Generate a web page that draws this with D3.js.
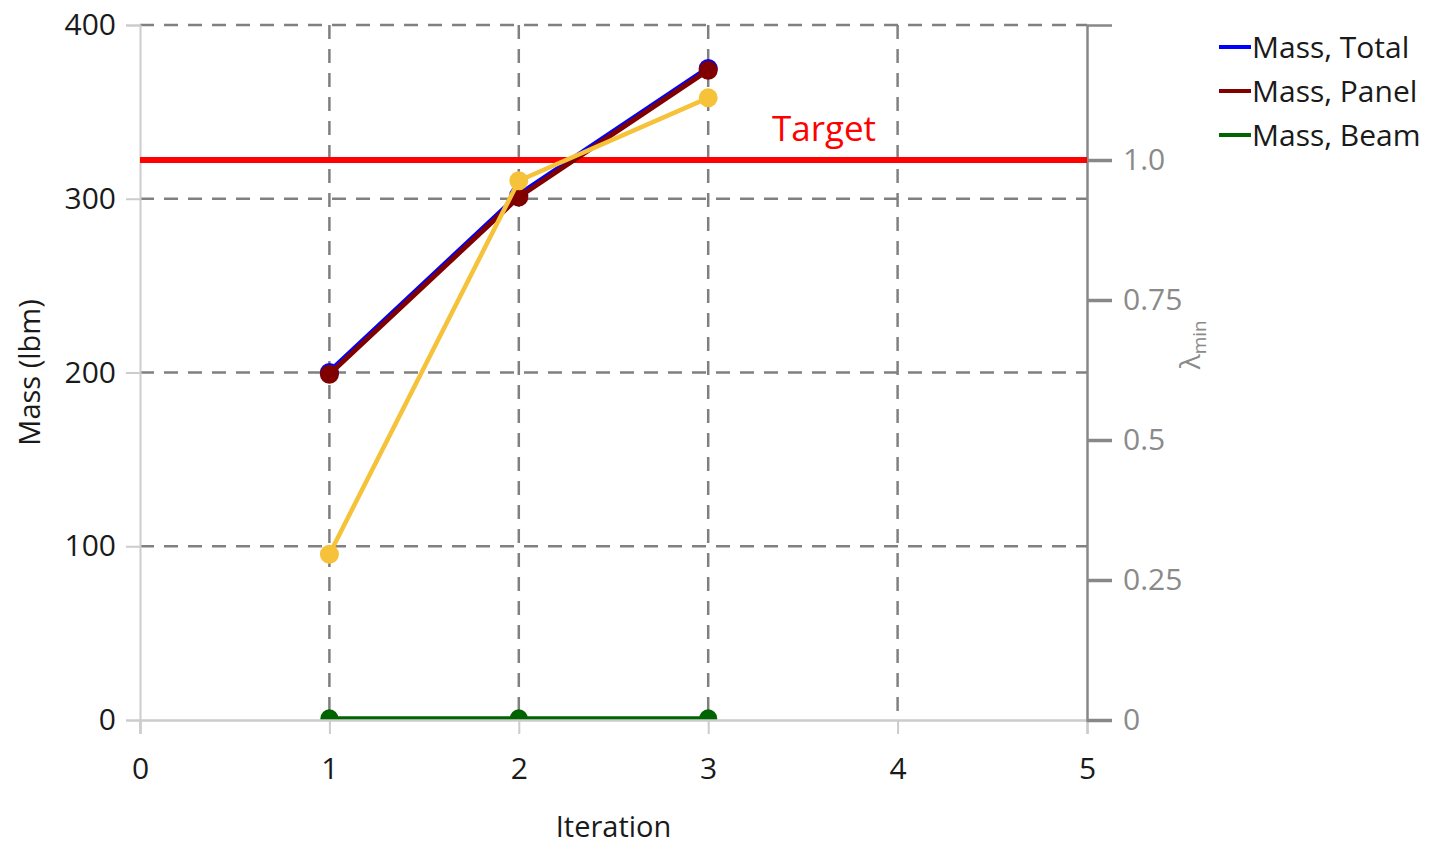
<!DOCTYPE html>
<html>
<head>
<meta charset="utf-8">
<script src="https://cdn.jsdelivr.net/npm/d3@7"></script>
<style>
  html, body { margin: 0; padding: 0; background: #fff; }
  svg { display: block; }
  text { font-family: "Open Sans", "Noto Sans", sans-serif; }
</style>
</head>
<body>
<svg id="chart" width="1439" height="864"></svg>
<script>
// ---- data ----
const iterations = [1, 2, 3];
const massTotal = [200, 302, 375];
const massPanel = [199, 301, 374];
const massBeam = [1, 1, 1];
const lambdaMin = [0.296, 0.963, 1.111];
const targetLambda = 1.0;
const xTicks = [0, 1, 2, 3, 4, 5];
const yLeftTicks = [0, 100, 200, 300, 400];
const yRightTicks = [0, 0.25, 0.5, 0.75, 1.0];
const yRightLabels = ["0", "0.25", "0.5", "0.75", "1.0"];
const legendNames = ["Mass, Total", "Mass, Panel", "Mass, Beam"];
const legendColors = ["#0000ff", "#800000", "#006400"];

// ---- layout ----
const L = 140, R = 1087, T = 25, B = 720;
const svg = d3.select("#chart");
const x = d3.scaleLinear().domain([0, 5]).range([L, R]);
const yL = d3.scaleLinear().domain([0, 400]).range([B, T]);
const yR = d3.scaleLinear().domain([0, 1.2411]).range([B, T]);

svg.append("defs").append("clipPath").attr("id", "plotclip")
  .append("rect").attr("x", L - 12).attr("y", T - 12).attr("width", R - L + 24).attr("height", B - T + 13);

// grid
const grid = svg.append("g");
grid.selectAll("line.h").data(yLeftTicks.filter(d => d > 0)).join("line")
  .attr("x1", L).attr("x2", R).attr("y1", d => yL(d)).attr("y2", d => yL(d))
  .attr("stroke", "#808080").attr("stroke-width", 2.5).attr("stroke-dasharray", "14,10");
grid.selectAll("line.v").data(xTicks.filter(d => d > 0 && d < 5)).join("line")
  .attr("x1", d => x(d)).attr("x2", d => x(d)).attr("y1", T).attr("y2", B)
  .attr("stroke", "#808080").attr("stroke-width", 2.5).attr("stroke-dasharray", "14,10");

// left axis
const gL = svg.append("g").attr("transform", `translate(${L},0)`)
  .call(d3.axisLeft(yL).tickValues(yLeftTicks).tickSize(14).tickPadding(10));
gL.select(".domain").attr("stroke", "#cccccc").attr("stroke-width", 2);
gL.selectAll(".tick line").attr("stroke", "#cccccc").attr("stroke-width", 2);
gL.selectAll(".tick text").attr("fill", "#1a1a1a").style("font-size", "30px");

// series
const plot = svg.append("g").attr("clip-path", "url(#plotclip)");
function series(vals, yScale, color, width, r) {
  const pts = iterations.map((it, i) => [x(it), yScale(vals[i])]);
  plot.append("path").attr("d", d3.line()(pts)).attr("fill", "none")
    .attr("stroke", color).attr("stroke-width", width).attr("stroke-linejoin", "round");
  plot.selectAll(null).data(pts).join("circle")
    .attr("cx", d => d[0]).attr("cy", d => d[1]).attr("r", r).attr("fill", color);
}
series(massBeam, yL, "#006400", 4, 9);

// bottom axis
const gB = svg.append("g").attr("transform", `translate(0,${B})`)
  .call(d3.axisBottom(x).tickValues(xTicks).tickSize(14).tickPadding(24).tickFormat(d3.format("d")));
gB.select(".domain").attr("stroke", "#cccccc").attr("stroke-width", 2.5);
gB.selectAll(".tick line").attr("stroke", "#cccccc").attr("stroke-width", 2);
gB.selectAll(".tick text").attr("fill", "#1a1a1a").style("font-size", "30px");

// right axis
const gR = svg.append("g").attr("transform", `translate(${R},0)`)
  .call(d3.axisRight(yR).tickValues(yRightTicks).tickSize(25).tickPadding(11)
    .tickFormat((d, i) => yRightLabels[i]));
gR.select(".domain").attr("stroke", "#888888").attr("stroke-width", 2.5);
gR.selectAll(".tick line").attr("stroke", "#888888").attr("stroke-width", 3.5);
gR.selectAll(".tick text").attr("fill", "#8a8a8a").style("font-size", "30px");

// axis titles
svg.append("text").attr("x", x(2.5)).attr("y", 837).attr("text-anchor", "middle")
  .attr("fill", "#1a1a1a").style("font-size", "29px").text("Iteration");
svg.append("text").attr("transform", `translate(40,${yL(200)}) rotate(-90)`)
  .attr("text-anchor", "middle").attr("fill", "#1a1a1a").style("font-size", "29px").text("Mass (lbm)");
const lam = svg.append("text").attr("transform", `translate(1200,${yR(0.67)}) rotate(-90)`)
  .attr("text-anchor", "middle").attr("fill", "#8a8a8a").style("font-size", "28px");
lam.append("tspan").text("λ");
lam.append("tspan").attr("dy", 6).style("font-size", "19px").text("min");

// target line
svg.append("line").attr("x1", L).attr("x2", R)
  .attr("y1", yR(targetLambda)).attr("y2", yR(targetLambda))
  .attr("stroke", "#ff0000").attr("stroke-width", 6);
svg.append("text").attr("x", 824).attr("y", yR(targetLambda) - 19).attr("text-anchor", "middle")
  .attr("fill", "#ff0000").style("font-size", "35px").text("Target");

// remaining series
const plot2 = svg.append("g").attr("clip-path", "url(#plotclip)");
function series2(vals, yScale, color, width, r) {
  const pts = iterations.map((it, i) => [x(it), yScale(vals[i])]);
  plot2.append("path").attr("d", d3.line()(pts)).attr("fill", "none")
    .attr("stroke", color).attr("stroke-width", width).attr("stroke-linejoin", "round");
  plot2.selectAll(null).data(pts).join("circle")
    .attr("cx", d => d[0]).attr("cy", d => d[1]).attr("r", r).attr("fill", color);
}
series2(massTotal, yL, "#0000ff", 6, 9.5);
series2(massPanel, yL, "#800000", 5, 9.5);
series2(lambdaMin, yR, "#f5c23a", 4.5, 9.5);

// legend
const lg = svg.append("g");
legendNames.forEach((name, i) => {
  const yy = 47 + i * 44;
  lg.append("line").attr("x1", 1219).attr("x2", 1251).attr("y1", yy).attr("y2", yy)
    .attr("stroke", legendColors[i]).attr("stroke-width", 4);
  lg.append("text").attr("x", 1252).attr("y", yy + 11).attr("fill", "#1a1a1a")
    .style("font-size", "30px").text(name);
});
</script>
</body>
</html>
